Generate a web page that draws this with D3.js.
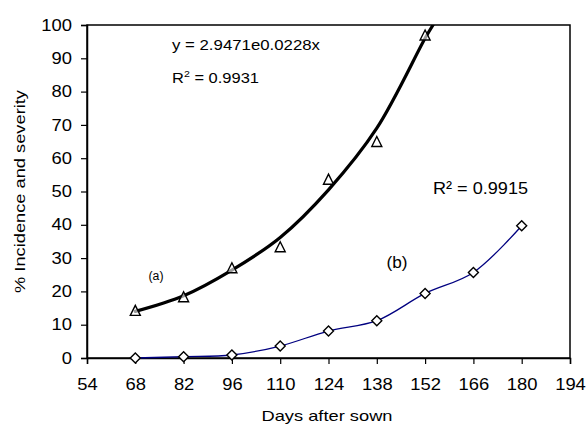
<!DOCTYPE html>
<html>
<head>
<meta charset="utf-8">
<script src="https://cdn.jsdelivr.net/npm/d3@7"></script>
<style>
  body { margin: 0; background: #fff; }
  text { font-family: "Liberation Sans", Arial, sans-serif; fill: #000; }
</style>
</head>
<body>
<script>
// data
var days = [68, 82, 96, 110, 124, 138, 152, 166, 180];
var incidence = [14.3, 18.4, 27.1, 33.4, 53.7, 65, 97];          // (a) triangles
var severity = [0, 0.4, 0.9, 3.6, 8.1, 11.2, 19.4, 25.7, 39.7];  // (b) diamonds
// fitted exponential trend of (a), as drawn
var trendX = [68, 82, 96, 110, 124, 138, 152, 154.3];
var trendY = [14, 18.7, 26.4, 36.2, 50.5, 69, 96, 100];
var xTicks = [54, 68, 82, 96, 110, 124, 138, 152, 166, 180, 194];
var yTicks = [0, 10, 20, 30, 40, 50, 60, 70, 80, 90, 100];

var W = 586, H = 425;
// plot area edges (don't call these "top" - window.top is read only)
var pL = 87, pR = 570, pT = 25, pB = 358;
var sx = 1.15; // the original picture is a bit stretched sideways

var svg = d3.select("body").append("svg").attr("width", W).attr("height", H);

var x = d3.scaleLinear().domain([54, 194]).range([pL, pR]);
var y = d3.scaleLinear().domain([0, 100]).range([pB, pT]);

// frame
svg.append("rect").attr("x", pL).attr("y", pT)
  .attr("width", pR - pL).attr("height", pB - pT)
  .attr("fill", "none").attr("stroke", "#000").attr("stroke-width", 1.5);

// axes
var xAxis = svg.append("g").attr("transform", "translate(0," + pB + ")")
  .call(d3.axisBottom(x).tickValues(xTicks).tickSize(6).tickPadding(15).tickFormat(d3.format("d")));
var yAxis = svg.append("g").attr("transform", "translate(" + pL + ",0)")
  .call(d3.axisLeft(y).tickValues(yTicks).tickSize(6).tickPadding(9).tickFormat(d3.format("d")));
[xAxis, yAxis].forEach(function(a){
  a.select(".domain").attr("stroke-width", 1.5);
  a.selectAll(".tick line").attr("stroke-width", 1.2);
  a.selectAll("text").style("font-size", "16px").style("font-family", "'Liberation Sans', Arial, sans-serif")
    .attr("transform", "scale(" + sx + ",1)");
});
yAxis.selectAll("text").attr("x", -15 / sx);

// helper for stretched free text
function label(tx, ty, size, str, len, anchor){
  return svg.append("text").attr("x", tx).attr("y", ty)
    .attr("text-anchor", anchor || "start")
    .attr("textLength", len).attr("lengthAdjust", "spacingAndGlyphs")
    .style("font-size", size + "px").text(str);
}

// axis titles
label(327, 421, 15, "Days after sown", 131, "middle");
svg.append("text").attr("transform", "translate(25,191.5) rotate(-90)").attr("text-anchor", "middle")
  .attr("textLength", 203).attr("lengthAdjust", "spacingAndGlyphs")
  .style("font-size", "15px").text("% Incidence and severity");

// clip for the trend line
svg.append("clipPath").attr("id", "plotclip").append("rect")
  .attr("x", pL).attr("y", pT).attr("width", pR - pL).attr("height", pB - pT);

// series (b) smooth line
var lineB = d3.line().x(function(d, i){ return x(days[i]); }).y(function(d){ return y(d); })
  .curve(d3.curveCatmullRom);
svg.append("path").datum(severity).attr("d", lineB)
  .attr("fill", "none").attr("stroke", "#000080").attr("stroke-width", 1.3);

// trend of (a)
var trendLine = d3.line().x(function(d, i){ return x(trendX[i]); }).y(function(d){ return y(d); })
  .curve(d3.curveCatmullRom);
svg.append("path").datum(trendY).attr("d", trendLine).attr("clip-path", "url(#plotclip)")
  .attr("fill", "none").attr("stroke", "#000").attr("stroke-width", 3.2).attr("stroke-linecap", "round");

// triangle markers
svg.selectAll(".tri").data(incidence).enter().append("path")
  .attr("transform", function(d, i){ return "translate(" + x(days[i]) + "," + y(d) + ")"; })
  .attr("d", "M0,-5L5,5L-5,5Z")
  .attr("fill", "#fff").attr("fill-opacity", 0.6).attr("stroke", "#000").attr("stroke-width", 1.4);

// diamond markers
svg.selectAll(".dia").data(severity).enter().append("path")
  .attr("transform", function(d, i){ return "translate(" + x(days[i]) + "," + y(d) + ")"; })
  .attr("d", "M0,-5L5,0L0,5L-5,0Z")
  .attr("fill", "#fff").attr("stroke", "#000").attr("stroke-width", 1.4);

// annotations
label(172, 50, 14, "y = 2.9471e0.0228x", 148);
var r1 = svg.append("text").attr("x", 172).attr("y", 83).style("font-size", "14px")
  .attr("textLength", 87).attr("lengthAdjust", "spacingAndGlyphs");
r1.append("tspan").text("R");
r1.append("tspan").attr("dy", -6).style("font-size", "9px").text("2");
r1.append("tspan").attr("dy", 6).text(" = 0.9931");
label(433, 194, 17, "R² = 0.9915", 95);
label(156, 280, 12, "(a)", 15, "middle");
label(397, 268, 16, "(b)", 21, "middle");
</script>
</body>
</html>
